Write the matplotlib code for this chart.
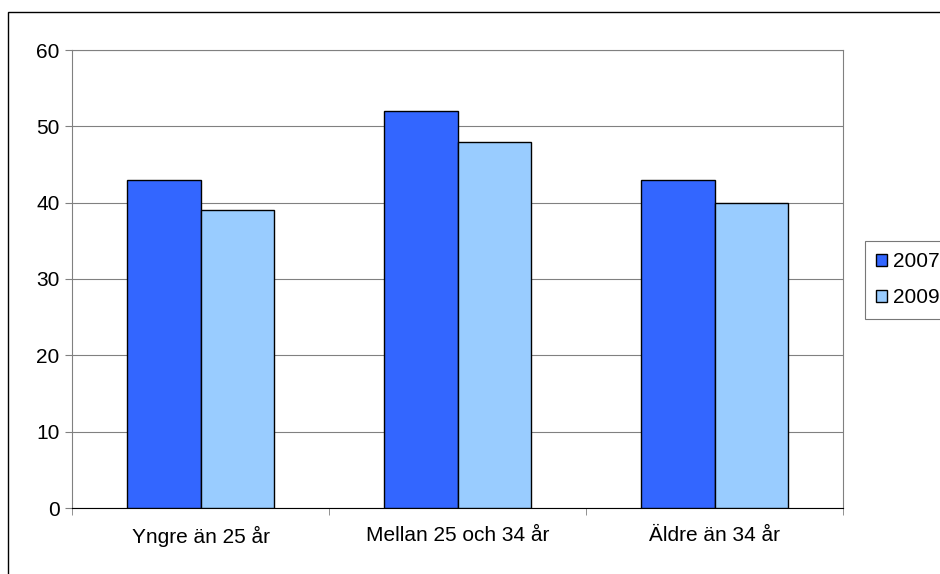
import matplotlib.pyplot as plt
import numpy as np
from matplotlib.patches import Rectangle

plt.rcParams['font.family'] = ['Liberation Sans', 'DejaVu Sans']

categories = ["Yngre än 25 år", "Mellan 25 och 34 år", "Äldre än 34 år"]
years = ["2007", "2009"]
values_2007 = [43, 52, 43]
values_2009 = [39, 48, 40]
y_ticks = [0, 10, 20, 30, 40, 50, 60]

colors = ["#3366FF", "#99CCFF"]
W, H = 940, 574
fig = plt.figure(figsize=(W / 100, H / 100), dpi=100)

# outer chart frame (runs off the right and bottom edges)
fig.patches.append(Rectangle((8 / W, -0.1), 1.2, 0.1 + (574 - 12) / H,
                             transform=fig.transFigure, fill=False,
                             edgecolor="black", linewidth=1.0))

ax = fig.add_axes([72 / W, 1 - 508 / H, (843 - 72) / W, (508 - 50) / H])

x = np.arange(len(categories))
bw = 1 / 3.5
ax.bar(x - bw / 2, values_2007, bw, color=colors[0], edgecolor="black",
       linewidth=1.0, label=years[0], zorder=3)
ax.bar(x + bw / 2, values_2009, bw, color=colors[1], edgecolor="black",
       linewidth=1.0, label=years[1], zorder=3)

ax.set_xlim(-0.5, len(categories) - 0.5)
ax.set_ylim(0, 60)
ax.set_yticks(y_ticks)
ax.yaxis.grid(True, color="#808080", linewidth=0.8, zorder=0)
for s in ax.spines.values():
    s.set_color("#808080")
ax.spines["bottom"].set_color("black")

ax.set_xticks(x)
ax.set_xticklabels(categories, fontsize=15)
ax.tick_params(axis="x", length=0, pad=13)
ax.set_xticks(np.arange(-0.5, len(categories)), minor=True)
ax.tick_params(axis="x", which="minor", length=5, color="#808080")
ax.tick_params(axis="y", length=5, color="#808080", labelsize=15, pad=4)

leg = fig.legend(loc="upper left", bbox_to_anchor=(865 / W, 1 - 241 / H),
                 fontsize=15, frameon=True, fancybox=False, handlelength=0.5,
                 handleheight=0.5, handletextpad=0.3, borderpad=0.55,
                 labelspacing=0.8, borderaxespad=0)
leg.get_frame().set_edgecolor("#555555")
leg.get_frame().set_linewidth(0.8)

fig.savefig("out.png", dpi=100, facecolor="white")
